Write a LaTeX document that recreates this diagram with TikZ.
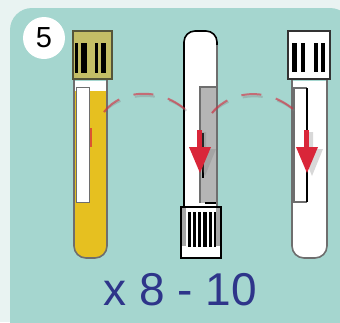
\documentclass[tikz,border=0pt]{standalone}
\usepackage{fontspec}
\setmainfont{Liberation Sans}
\definecolor{pagebg}{HTML}{E9F3F2}
\definecolor{panelbg}{HTML}{A5D6CF}
\definecolor{serum}{HTML}{E6C020}
\definecolor{capolive}{HTML}{C4BE66}
\definecolor{capedge}{HTML}{55553A}
\definecolor{tubeedge}{HTML}{6E6E6E}
\definecolor{labelgray}{HTML}{B5B5B5}
\definecolor{bloodred}{HTML}{D92639}
\definecolor{countblue}{HTML}{2E358A}
\begin{document}
\begin{tikzpicture}[x=1pt, y=-1pt,
    tubeline/.style={draw=tubeedge, line width=1.6pt},
    capbox/.style={draw=capedge, line width=1.4pt},
    stripe/.style={fill=black},
    labelbox/.style={fill=white, draw=tubeedge, line width=1pt},
    flowarrow/.style={fill=bloodred},
    linkline/.style={draw=bloodred, opacity=0.6, line width=2pt, dash pattern=on 20pt off 15pt},
    linkshadow/.style={draw=gray, opacity=0.35, line width=2pt, dash pattern=on 20pt off 15pt}]

    % Background and panel
    \useasboundingbox (0,0) rectangle (340,322);
    \fill[pagebg] (0,0) rectangle (340,322);
    \fill[panelbg, rounded corners=22pt] (10,8) rectangle (352,345);

    % Step number
    \node[circle, fill=white, minimum size=42pt, inner sep=0pt] (stepnum) at (44,38) {};
    \node[font=\fontsize{29}{30}\selectfont] at (stepnum.center) {5};

    % Tube 1: serum tube, cap on top
    \fill[serum, rounded corners=12pt] (74,81) -- (74,258) -- (107,258) [sharp corners] -- (107,81) -- cycle;
    \fill[white] (75,81) rectangle (106,91);
    \draw[tubeline, rounded corners=12pt] (74,79) -- (74,258) -- (107,258) [sharp corners] -- (107,79);
    \draw[labelbox] (76,87) rectangle (89,202);
    \fill[bloodred, opacity=0.7] (89.5,128) rectangle (92,147);
    \draw[capbox, fill=capolive] (73,31) rectangle (112,79);
    \foreach \xa/\xb in {75/78, 81/87, 95/98, 101/106} {
            \fill[stripe] (\xa,43) rectangle (\xb,73);
        }
    \coordinate (tubeA) at (104,112);

    % Tube 2: upside down, cap at the bottom
    \fill[white, rounded corners=11pt] (184,207) -- (184,31) -- (217,31) [sharp corners] -- (217,207) -- cycle;
    \fill[labelgray] (200,87) rectangle (216,203);
    \draw[tubeedge, line width=1.4pt] (200,203) -- (200,87) -- (216,87);
    \draw[black, line width=1.4pt] (205,203) -- (216,203);
    \draw[black, line width=1.6pt, rounded corners=11pt] (184,207) -- (184,31) -- (217,31) [sharp corners] -- (217,45);
    \draw[tubeedge, line width=1.6pt] (217,45) -- (217,207);
    \draw[black, line width=1.5pt] (203,133) -- (203,178);
    \draw[capbox, draw=black, fill=white] (181,207) rectangle (221,258);
    \fill[gray!70] (182,208) rectangle (186,246);
    \fill[gray!70] (216,208) rectangle (220,246);
    \foreach \xa/\xb in {188/191, 193/196, 198/201, 203/207, 209/212, 214/216} {
            \fill[stripe] (\xa,212) rectangle (\xb,247);
        }
    \coordinate (tubeB) at (200,130);

    % Tube 3: empty tube, cap on top
    \fill[white, rounded corners=12pt] (292,81) -- (292,258) -- (327,258) [sharp corners] -- (327,81) -- cycle;
    \draw[tubeline, rounded corners=12pt] (292,79) -- (292,258) -- (327,258) [sharp corners] -- (327,79);
    \draw[tubeedge, line width=1.2pt] (307,88) -- (294,88) -- (294,202) -- (307,202);
    \draw[black, line width=1.6pt] (307,88) -- (307,202);
    \draw[capbox, draw=black!80, fill=white] (288,31) rectangle (330,79);
    \foreach \xa/\xb in {292/297, 301/305, 314/318, 321/325} {
            \fill[stripe] (\xa,43) rectangle (\xb,72);
        }
    \coordinate (tubeC) at (306,130);

    % Red flow arrows
    \foreach \cx in {200, 307} {
            \fill[gray, opacity=0.3] (\cx+1,132) rectangle (\cx+6,150) (\cx-6,149) -- (\cx+16,149) -- (\cx+5,176) -- cycle;
            \fill[flowarrow] (\cx-3,130) rectangle (\cx+2,149);
            \fill[flowarrow] (\cx-11,147) -- (\cx+11,147) -- (\cx,173) -- cycle;
        }

    % Dashed links between the tubes
    \coordinate (linkAB) at (192,116);
    \coordinate (linkBC) at (212,113);
    \coordinate (linkC) at (302,118);
    \draw[linkshadow, shift={(2,3)}] (tubeA) .. controls (122,88) and (165,86) .. (linkAB);
    \draw[linkline] (tubeA) .. controls (122,88) and (165,86) .. (linkAB);
    \draw[linkshadow, shift={(2,3)}] (linkBC) .. controls (232,88) and (275,86) .. (linkC);
    \draw[linkline] (linkBC) .. controls (232,88) and (275,86) .. (linkC);

    % Repeat count
    \node[anchor=base, text=countblue, font=\fontsize{46}{50}\selectfont] (count) at (180,305) {x 8 - 10};
\end{tikzpicture}
\end{document}
